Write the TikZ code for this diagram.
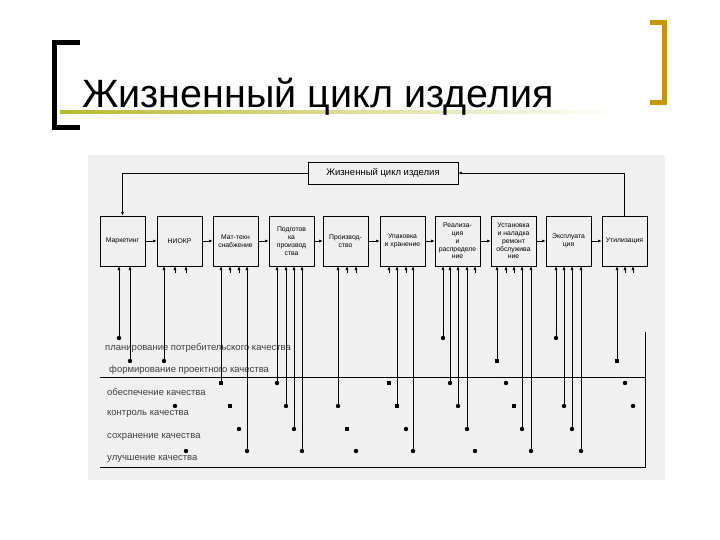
\documentclass[tikz,border=0pt]{standalone}
\usepackage{fontspec}
\setmainfont{Liberation Sans}
\usetikzlibrary{arrows.meta}
\definecolor{gold}{HTML}{C8960C}
\begin{document}
\begin{tikzpicture}[x=1pt,y=-1pt,
  blk/.style={draw,line width=0.6pt,minimum width=45pt,minimum height=50pt,inner sep=0pt,align=center,font=\fontsize{6.8}{7.8}\selectfont},
  cdot/.style={circle,fill=black,inner sep=0pt,minimum size=4.4pt},
  sdot/.style={rectangle,fill=black,inner sep=0pt,minimum size=3.8pt},
  vl/.style={line width=0.7pt,{Latex[length=4pt,width=3pt]}-},
  ha/.style={line width=0.6pt,-{Latex[length=3.5pt,width=2.8pt]}},
  rowlab/.style={anchor=west,font=\fontsize{9.5}{10}\selectfont,text=black!75,inner sep=0pt}]
\useasboundingbox (0,0) rectangle (720,540);
\fill[white] (0,0) rectangle (720,540);
% title
\shade[left color=olive!55!white,right color=white] (60,111) rectangle (620,114);
\fill[black] (52,40) rectangle (57,130);
\fill[black] (52,40) rectangle (80,45);
\fill[black] (52,125) rectangle (80,130);
\fill[gold] (662,20) rectangle (667,105);
\fill[gold] (650,20) rectangle (667,25);
\fill[gold] (650,100) rectangle (667,105);
\node[anchor=base west,inner sep=0pt,font=\fontsize{39.5}{42}\selectfont] (title) at (82,108) {Жизненный цикл изделия};
% panel
\fill[black!6] (88,155) rectangle (665,480);
\node[draw,line width=0.6pt,minimum width=150pt,minimum height=22pt,inner sep=0pt,font=\fontsize{9.5}{10}\selectfont] (top) at (383,173) {Жизненный цикл изделия};
\node[blk] (b1) at (122.5,241) {Маркетинг};
\node[blk] (b2) at (179.5,241) {НИОКР};
\node[blk] (b3) at (235.5,241) {Мат-техн\\снабжение};
\node[blk] (b4) at (291.5,241) {Подготов\\ка\\производ\\ства};
\node[blk] (b5) at (345.5,241) {Производ-\\ство};
\node[blk] (b6) at (402.5,241) {Упаковка\\и хранение};
\node[blk] (b7) at (457.5,241) {Реализа-\\ция\\и\\распределе\\ние};
\node[blk] (b8) at (513.5,241) {Установка\\и наладка\\ремонт\\обслужива\\ние};
\node[blk] (b9) at (568.5,241) {Эксплуата\\ция};
\node[blk] (b10) at (624.5,241) {Утилизация};
\foreach \a/\b in {b1/b2,b2/b3,b3/b4,b4/b5,b5/b6,b6/b7,b7/b8,b8/b9,b9/b10}
  \draw[ha] (\a.east) -- (\b.west);
\draw[ha] (top.west) -| (b1.north);
\draw[ha] (b10.north) |- (top.east);
% frame lines
\draw[line width=0.7pt] (100,377) -- (645,377);
\draw[line width=0.7pt] (100,467) -- (645,467) -- (645,332);
% row labels
\node[rowlab] (r1) at (105,348) {планирование потребительского качества};
\node[rowlab] (r2) at (109,370) {формирование проектного качества};
\node[rowlab] (r3) at (107,392) {обеспечение качества};
\node[rowlab] (r4) at (107,414) {контроль качества};
\node[rowlab] (r5) at (107,437) {сохранение качества};
\node[rowlab] (r6) at (107,459) {улучшение качества};
% vertical links: x/row/full(1)or stub(0)/shape
\foreach \x/\r/\f/\s [count=\i] in {
 119/338/1/c,130/361/1/c,164/361/1/c,175/406/0/c,186/451/0/c,
 221/383/1/s,230/406/0/s,239/429/0/c,247/451/1/c,
 277/383/1/c,286/406/1/c,294/429/1/c,302/451/1/c,
 338/406/1/c,347/429/0/s,356/451/0/c,
 389/383/0/s,397/406/1/s,406/429/0/c,413/451/1/c,
 443/338/1/c,450/383/1/c,458/406/1/c,467/429/1/c,475/451/0/c,
 497/361/1/s,506/383/0/c,514/406/0/s,522/429/1/c,531/451/1/c,
 556/338/1/c,564/406/1/c,572/429/1/c,581/451/1/c,
 617/361/1/s,625/383/0/c,633/406/0/c}{
  \coordinate (t\i) at (\x,266);
  \if c\s \node[cdot] (d\i) at (\x,\r) {}; \else \node[sdot] (d\i) at (\x,\r) {}; \fi
  \ifnum\f=1 \draw[vl] (t\i) -- (d\i); \else \draw[vl] (t\i) -- ++(0,7); \fi
}
\end{tikzpicture}
\end{document}
